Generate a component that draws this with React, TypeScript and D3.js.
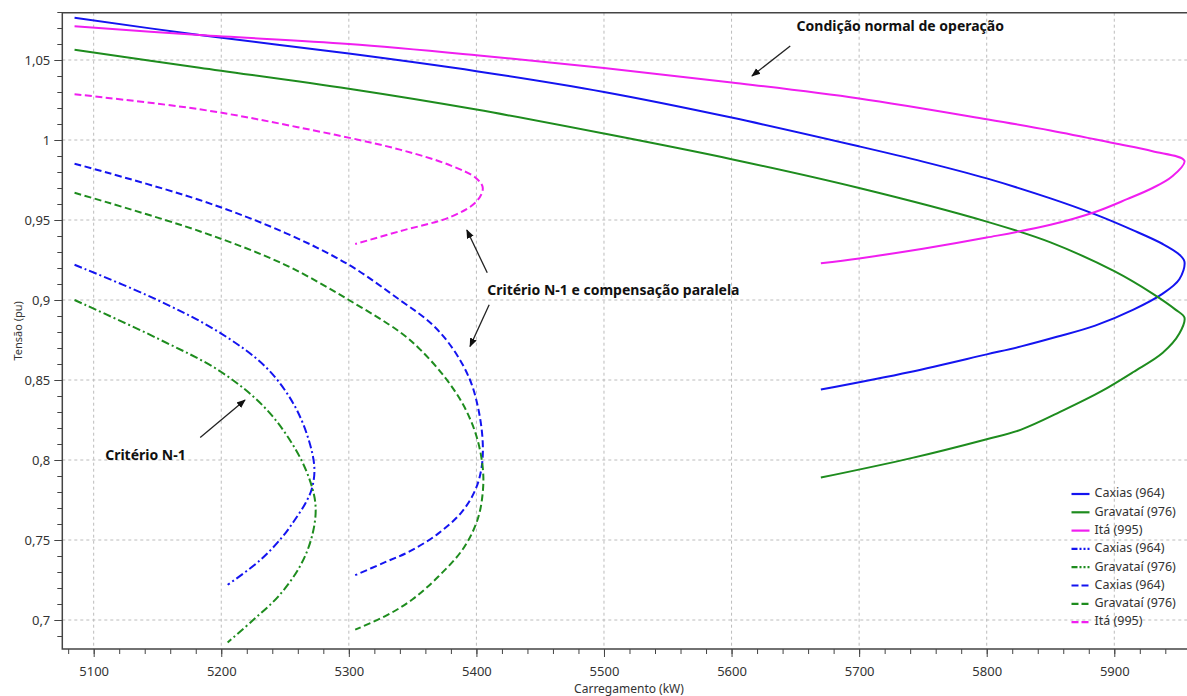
import React, { useEffect, useRef } from "react";
import * as d3 from "d3";

type Pt = [number, number];

// Condição normal de operação (solid)
const caxiasNormal: Pt[] = [
  [5085, 1.0764], [5183, 1.0656], [5300, 1.054], [5400, 1.043], [5500, 1.03],
  [5600, 1.014], [5700, 0.996], [5750, 0.9865], [5800, 0.976], [5850, 0.9635],
  [5885, 0.9535], [5915, 0.9435], [5938, 0.935], [5950, 0.929], [5955, 0.924],
  [5951, 0.913], [5938, 0.904], [5915, 0.894], [5885, 0.884], [5855, 0.877],
  [5827, 0.871], [5800, 0.866], [5740, 0.855], [5670, 0.844],
];
const gravataiNormal: Pt[] = [
  [5085, 1.0564], [5183, 1.0452], [5300, 1.032], [5400, 1.019], [5500, 1.004],
  [5600, 0.988], [5700, 0.97], [5800, 0.949], [5850, 0.936], [5900, 0.918],
  [5930, 0.904], [5948, 0.894], [5955, 0.889], [5951, 0.879], [5938, 0.867],
  [5915, 0.855], [5890, 0.843], [5860, 0.831], [5827, 0.819], [5800, 0.813],
  [5740, 0.801], [5670, 0.789],
];
const itaNormal: Pt[] = [
  [5085, 1.0711], [5183, 1.0656], [5300, 1.06], [5400, 1.053], [5500, 1.045],
  [5600, 1.036], [5700, 1.026], [5800, 1.013], [5850, 1.006], [5900, 0.998],
  [5930, 0.993], [5955, 0.987], [5945, 0.977], [5930, 0.97], [5910, 0.963],
  [5885, 0.955], [5850, 0.947], [5800, 0.939], [5750, 0.932], [5700, 0.926],
  [5670, 0.923],
];

// Critério N-1 (dash-dot)
const caxiasN1: Pt[] = [
  [5085, 0.922], [5150, 0.9], [5200, 0.879], [5235, 0.858], [5256, 0.836],
  [5268, 0.814], [5273, 0.795], [5271, 0.782], [5266, 0.773], [5258, 0.763],
  [5248, 0.752], [5230, 0.737], [5205, 0.722],
];
const gravataiN1: Pt[] = [
  [5085, 0.9], [5150, 0.876], [5200, 0.855], [5235, 0.832], [5258, 0.807],
  [5270, 0.786], [5274, 0.77], [5271, 0.752], [5262, 0.734], [5245, 0.715],
  [5225, 0.7], [5205, 0.686],
];

// Critério N-1 e compensação paralela (dashed)
const caxiasComp: Pt[] = [
  [5085, 0.9852], [5183, 0.9625], [5250, 0.942], [5300, 0.922], [5340, 0.9],
  [5365, 0.885], [5382, 0.869], [5395, 0.85], [5402, 0.83], [5405, 0.81],
  [5404, 0.795], [5399, 0.781], [5388, 0.767], [5370, 0.754], [5348, 0.743],
  [5328, 0.736], [5305, 0.728],
];
const gravataiComp: Pt[] = [
  [5085, 0.967], [5183, 0.943], [5250, 0.922], [5300, 0.9], [5340, 0.88],
  [5356, 0.869], [5375, 0.852], [5390, 0.834], [5400, 0.815], [5405, 0.795],
  [5405, 0.78], [5401, 0.763], [5390, 0.745], [5370, 0.727], [5350, 0.713],
  [5330, 0.703], [5305, 0.694],
];
const itaComp: Pt[] = [
  [5085, 1.0286], [5183, 1.0192], [5260, 1.008], [5340, 0.994], [5380, 0.984],
  [5400, 0.976], [5405, 0.97], [5400, 0.9615], [5380, 0.952], [5340, 0.943],
  [5305, 0.935],
];

const xTicks = [5100, 5200, 5300, 5400, 5500, 5600, 5700, 5800, 5900];
const yTicks = [0.7, 0.75, 0.8, 0.85, 0.9, 0.95, 1, 1.05];

const BLUE = "#1414f0";
const GREEN = "#1e8c1e";
const MAGENTA = "#f01ef0";
const DASHED = "7,3.5";
const DASHDOT = "8,3,2,3";

const series = [
  { name: "Caxias (964)", data: caxiasNormal, color: BLUE, dash: null },
  { name: "Gravataí (976)", data: gravataiNormal, color: GREEN, dash: null },
  { name: "Itá (995)", data: itaNormal, color: MAGENTA, dash: null },
  { name: "Caxias (964)", data: caxiasN1, color: BLUE, dash: DASHDOT },
  { name: "Gravataí (976)", data: gravataiN1, color: GREEN, dash: DASHDOT },
  { name: "Caxias (964)", data: caxiasComp, color: BLUE, dash: DASHED },
  { name: "Gravataí (976)", data: gravataiComp, color: GREEN, dash: DASHED },
  { name: "Itá (995)", data: itaComp, color: MAGENTA, dash: DASHED },
];

// annotations: text anchor + arrow (from -> to), all in data units
const notes = [
  { text: "Condição normal de operação", x: 5651, y: 1.0705, arrows: [[[5646, 1.0588], [5616, 1.04]]] },
  {
    text: "Critério N-1 e compensação paralela", x: 5408.5, y: 0.9055,
    arrows: [[[5408.5, 0.917], [5392.5, 0.9437]], [[5410, 0.897], [5395, 0.871]]],
  },
  { text: "Critério N-1", x: 5109, y: 0.8025, arrows: [[[5183.5, 0.814], [5218.6, 0.8375]]] },
];

const W = 1187;
const H = 696;
const FONT = "'Noto Sans', 'Open Sans', sans-serif";

export default function App() {
  const ref = useRef<SVGSVGElement>(null);

  useEffect(() => {
    if (!ref.current) return;
    const svg = d3.select(ref.current);
    svg.selectAll("*").remove();

    const left = 62.3, top = 12.7, right = 1187, bottom = 649;
    const x = d3.scaleLinear().domain([5075.4, 5957]).range([left, right]);
    const y = d3.scaleLinear().domain([1 - (bottom - 140) / 1600, 1 + (140 - top) / 1600]).range([bottom, top]);

    const defs = svg.append("defs");
    defs.append("clipPath").attr("id", "plot")
      .append("rect").attr("x", left).attr("y", top).attr("width", right - left).attr("height", bottom - top);
    defs.append("marker").attr("id", "arrow")
      .attr("viewBox", "0 0 10 10").attr("refX", 9).attr("refY", 5)
      .attr("markerWidth", 9).attr("markerHeight", 9).attr("markerUnits", "userSpaceOnUse")
      .attr("orient", "auto")
      .append("path").attr("d", "M0,1 L10,5 L0,9 Z").attr("fill", "#111");

    // Grid lines
    const grid = svg.append("g").attr("stroke", "#bcbcbc").attr("stroke-dasharray", "3,3").attr("stroke-width", 1);
    grid.selectAll("line.v").data(xTicks).enter().append("line")
      .attr("x1", (d) => x(d)).attr("x2", (d) => x(d)).attr("y1", top).attr("y2", bottom);
    grid.selectAll("line.h").data(yTicks).enter().append("line")
      .attr("x1", left).attr("x2", right).attr("y1", (d) => y(d)).attr("y2", (d) => y(d));

    // X axis: minor then major
    const xMinor = d3.range(5080, 5957, 20);
    svg.append("g").attr("transform", `translate(0,${bottom})`)
      .call(d3.axisBottom(x).tickValues(xMinor).tickSize(5).tickFormat(() => ""))
      .call((g) => g.select(".domain").remove())
      .attr("color", "#444");
    svg.append("g").attr("transform", `translate(0,${bottom})`)
      .call(d3.axisBottom(x).tickValues(xTicks).tickSize(8).tickPadding(10).tickFormat(d3.format("d")))
      .call((g) => g.select(".domain").remove())
      .attr("color", "#444")
      .selectAll("text").attr("fill", "#333").style("font-family", FONT).style("font-size", "13px");

    // Y axis
    const yMinor = d3.range(0.69, 1.08, 0.01).map((v) => Math.round(v * 100) / 100);
    svg.append("g").attr("transform", `translate(${left},0)`)
      .call(d3.axisLeft(y).tickValues(yMinor).tickSize(5).tickFormat(() => ""))
      .call((g) => g.select(".domain").remove())
      .attr("color", "#444");
    svg.append("g").attr("transform", `translate(${left},0)`)
      .call(d3.axisLeft(y).tickValues(yTicks).tickSize(8).tickPadding(4)
        .tickFormat((d) => String(d).replace(".", ",")))
      .call((g) => g.select(".domain").remove())
      .attr("color", "#444")
      .selectAll("text").attr("fill", "#333").style("font-family", FONT).style("font-size", "13px");

    // Frame
    svg.append("path")
      .attr("d", `M${right},${top} H${left} V${bottom} H${right}`)
      .attr("fill", "none").attr("stroke", "#444").attr("stroke-width", 1.5);

    // Axis titles
    svg.append("text").attr("x", 629).attr("y", 693).attr("text-anchor", "middle")
      .style("font-family", FONT).style("font-size", "12px").attr("fill", "#333")
      .text("Carregamento (kW)");
    svg.append("text").attr("transform", `translate(22,${(top + bottom) / 2}) rotate(-90)`)
      .attr("text-anchor", "middle")
      .style("font-family", FONT).style("font-size", "11px").attr("fill", "#333")
      .text("Tensão (pu)");

    // Curves
    const line = d3.line<Pt>()
      .x((d) => x(d[0]))
      .y((d) => y(d[1]))
      .curve(d3.curveCatmullRom.alpha(0.5));

    const curves = svg.append("g").attr("clip-path", "url(#plot)");
    series.forEach((s) => {
      curves.append("path")
        .datum(s.data)
        .attr("fill", "none")
        .attr("stroke", s.color)
        .attr("stroke-width", 2)
        .attr("stroke-dasharray", s.dash ?? null)
        .attr("d", line);
    });

    // Annotations
    notes.forEach((n) => {
      svg.append("text").attr("x", x(n.x)).attr("y", y(n.y))
        .attr("dominant-baseline", "middle")
        .style("font-family", FONT).style("font-size", "14px").style("font-weight", "bold")
        .attr("fill", "#111").text(n.text);
      n.arrows.forEach((a) => {
        svg.append("line")
          .attr("x1", x(a[0][0])).attr("y1", y(a[0][1]))
          .attr("x2", x(a[1][0])).attr("y2", y(a[1][1]))
          .attr("stroke", "#222").attr("stroke-width", 1.3)
          .attr("marker-end", "url(#arrow)");
      });
    });

    // Legend
    const legend = svg.append("g").attr("transform", "translate(1071.5,494)");
    series.forEach((s, i) => {
      const g = legend.append("g").attr("transform", `translate(0,${i * 18.3})`);
      g.append("line").attr("x1", 0).attr("x2", 18).attr("y1", 0).attr("y2", 0)
        .attr("stroke", s.color).attr("stroke-width", 2.2)
        .attr("stroke-dasharray", s.dash === DASHDOT ? "6,2,2,2,2,2" : s.dash === DASHED ? "7,3" : null);
      g.append("text").attr("x", 23).attr("y", 0).attr("dominant-baseline", "middle")
        .style("font-family", FONT).style("font-size", "12.5px").attr("fill", "#333")
        .text(s.name);
    });
  }, []);

  return (
    <svg
      ref={ref}
      width={W}
      height={H}
      style={{ position: "absolute", left: 0, top: 0, background: "#fff" }}
    />
  );
}
